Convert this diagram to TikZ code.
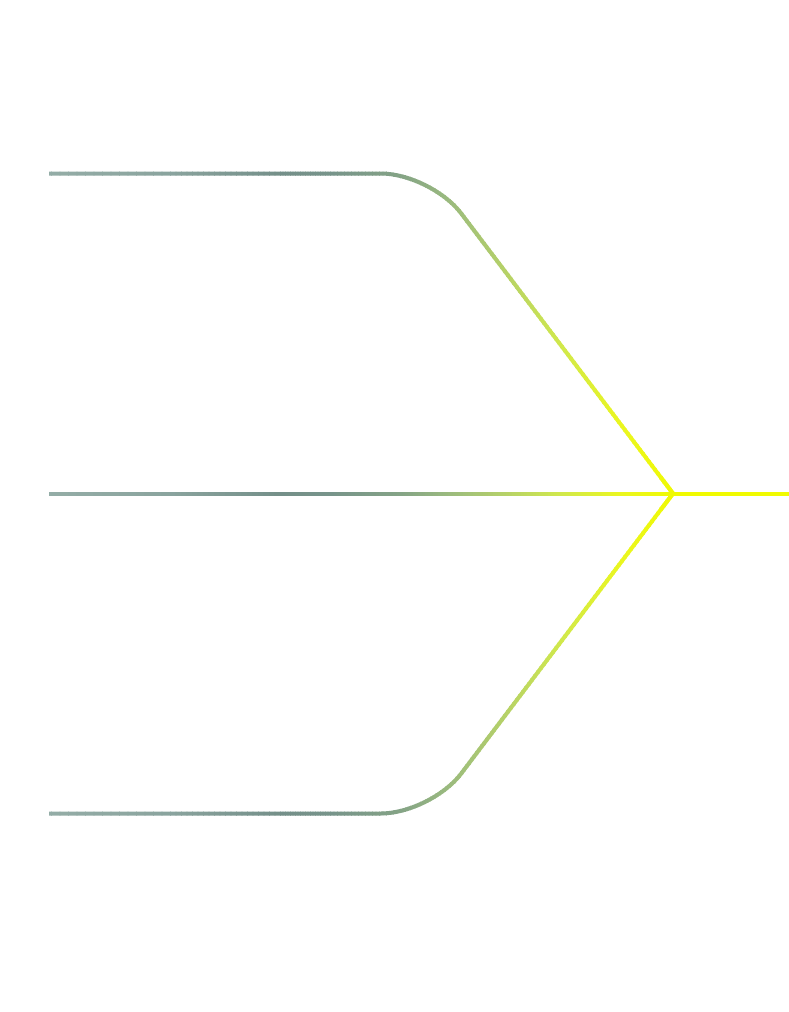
\documentclass[tikz,border=0pt]{standalone}
\usetikzlibrary{calc}
\definecolor{g0}{HTML}{98B0AA}
\definecolor{g1}{HTML}{8AA49E}
\definecolor{g2}{HTML}{748F89}
\definecolor{g3}{HTML}{77948A}
\definecolor{g4}{HTML}{84A386}
\definecolor{g5}{HTML}{9BBB7E}
\definecolor{g6}{HTML}{B3CF6A}
\definecolor{g7}{HTML}{D0E84C}
\definecolor{g8}{HTML}{EAF620}
\definecolor{g9}{HTML}{F0FA00}
\newcommand\mylines[1]{%
  \draw[flow,#1,rounded corners=50pt] (tl) -- (tc) -- (m);
  \draw[flow,#1,rounded corners=50pt] (bl) -- (bc) -- (m);
  \draw[flow,#1,line join=miter] ($(m)!20pt!(tc)$) -- (m) -- ($(m)!20pt!(bc)$);
  \draw[flow,#1] (ml) -- (mr);}
\begin{document}
\begin{tikzpicture}[x=1pt,y=-1pt, flow/.style={line width=4pt}]
\useasboundingbox (0,0) rectangle (789,1012);
\coordinate (tl) at (49,173.5);
\coordinate (tc) at (431,173.5);
\coordinate (m) at (673,493.5);
\coordinate (ml) at (49,493.5);
\coordinate (mr) at (789,493.5);
\coordinate (bl) at (49,813.5);
\coordinate (bc) at (431,813.5);
\foreach \xa/\xb/\ca/\cb in {0/170/g0/g1, 170/280/g1/g2, 280/330/g2/g3, 330/400/g3/g4, 400/450/g4/g5, 450/500/g5/g6, 500/560/g6/g7, 560/620/g7/g8, 620/680/g8/g9, 680/790/g9/g9}{
  \foreach \t in {0,...,19}{
    \pgfmathsetmacro\xs{\xa+(\xb-\xa)*\t/20}
    \pgfmathsetmacro\xe{\xa+(\xb-\xa)*(\t+1)/20+0.8}
    \pgfmathsetmacro\p{100-100*(\t+0.5)/20}
    \begin{scope}
      \clip (\xs,0) rectangle (\xe,1012);
      \mylines{\ca!\p!\cb}
    \end{scope}
  }
}
\end{tikzpicture}
\end{document}
